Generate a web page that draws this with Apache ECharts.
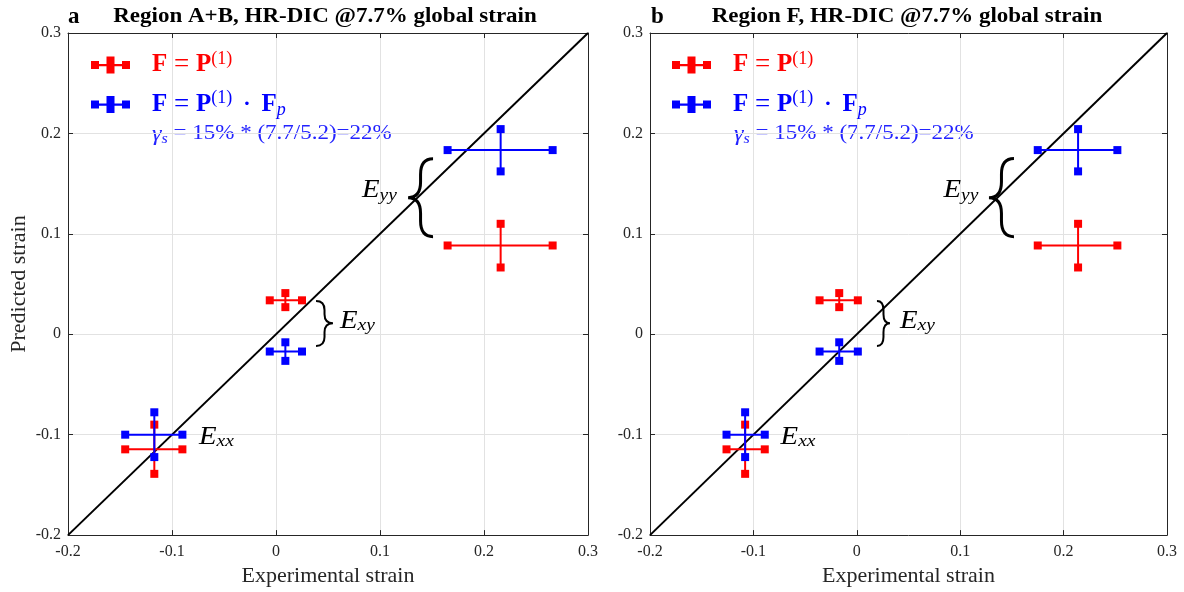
<!DOCTYPE html>
<html><head><meta charset="utf-8">
<script src="https://cdn.jsdelivr.net/npm/echarts@6/dist/echarts.min.js"></script>
<style>html,body{margin:0;padding:0;background:#fff}#c{width:1184px;height:592px}</style>
</head><body><div id="c"></div>
<script>
// ---------- data ----------
const components = ['Exx', 'Exy', 'Eyy'];
const tickLabels = ['-0.2', '-0.1', '0', '0.1', '0.2', '0.3'];

// Panel a: Region A+B
const expA      = [-0.117,  0.009,  0.216];
const expALo    = [-0.145, -0.006,  0.165];
const expAHi    = [-0.090,  0.025,  0.266];
const redA      = [-0.1146, 0.0338, 0.0884];
const redALo    = [-0.139,  0.027,  0.0665];
const redAHi    = [-0.090,  0.041,  0.110];
const blueA     = [-0.100, -0.0172, 0.1834];
const blueALo   = [-0.1223,-0.0265, 0.1622];
const blueAHi   = [-0.0777,-0.008,  0.2043];

// Panel b: Region F
const expB      = [-0.108, -0.017,  0.214];
const expBLo    = [-0.126, -0.036,  0.175];
const expBHi    = [-0.089,  0.001,  0.252];
const redB      = [-0.1146, 0.0338, 0.0884];
const redBLo    = [-0.139,  0.027,  0.0665];
const redBHi    = [-0.090,  0.041,  0.110];
const blueB     = [-0.100, -0.0172, 0.1834];
const blueBLo   = [-0.1223,-0.0265, 0.1622];
const blueBHi   = [-0.0777,-0.008,  0.2043];

const diag = [[-0.2, -0.2], [0.3, 0.3]];

// ---------- annotation anchors (data coords) ----------
// braces: [tipX, tipY, yLow, yHigh, endX]
const bracesA = [[0.127, 0.136, 0.0972, 0.1747, 0.1510], [0.0548, 0.011, -0.0116, 0.0331, 0.0385]];
const bracesB = [[0.1278, 0.136, 0.0972, 0.175, 0.1520], [0.0321, 0.011, -0.0116, 0.0331, 0.0195]];
// labels: [x, y, subscript, align]
const labelsA = [[0.1163, 0.143, 'yy', 'right'], [0.0615, 0.0132, 'xy', 'left'], [-0.074, -0.1024, 'xx', 'left']];
const labelsB = [[0.1176, 0.143, 'yy', 'right'], [0.0418, 0.0132, 'xy', 'left'], [-0.0737, -0.1024, 'xx', 'left']];

// ---------- helpers ----------
function rows(x, xl, xh, y, yl, yh) {
  return x.map((v, i) => [v, y[i], xl[i], xh[i], yl[i], yh[i]]);
}
const SERIF = '"Liberation Serif", "Times New Roman", serif';
const TXT = '#262626';

function errRender(params, api) {
  const x = api.value(0), y = api.value(1);
  const L = api.coord([api.value(2), y]), R = api.coord([api.value(3), y]);
  const B = api.coord([x, api.value(4)]), T = api.coord([x, api.value(5)]);
  const color = api.visual('color');
  const s = 8;
  const sq = p => ({type: 'rect', shape: {x: p[0] - s / 2, y: p[1] - s / 2, width: s, height: s}, style: {fill: color}});
  return {type: 'group', children: [
    {type: 'line', shape: {x1: L[0], y1: L[1], x2: R[0], y2: R[1]}, style: {stroke: color, lineWidth: 2}},
    {type: 'line', shape: {x1: T[0], y1: T[1], x2: B[0], y2: B[1]}, style: {stroke: color, lineWidth: 2}},
    sq(L), sq(R), sq(T), sq(B)
  ]};
}

function bracePath(t, lo, hi, e) {
  const tx = t[0], ty = t[1], yt = hi[1], yb = lo[1], ex = e;
  const xm = tx + (ex - tx) * 0.5;
  const r = Math.min(Math.abs(ex - tx) * 0.7, (yb - yt) / 5);
  return `M${ex},${yt} Q${xm},${yt} ${xm},${yt + r} L${xm},${ty - r} Q${xm},${ty} ${tx},${ty} ` +
         `Q${xm},${ty} ${xm},${ty + r} L${xm},${yb - r} Q${xm},${yb} ${ex},${yb}`;
}

function annotRender(braces, labels) {
  return function (params, api) {
    if (params.dataIndex !== 0) return null;
    const children = [];
    braces.forEach((b, i) => {
      const t = api.coord([b[0], b[1]]);
      const lo = api.coord([b[0], b[2]]);
      const hi = api.coord([b[0], b[3]]);
      const e = api.coord([b[4], b[1]])[0];
      children.push({type: 'path', shape: {pathData: bracePath(t, lo, hi, e)},
        style: {stroke: '#000', fill: null, lineWidth: i === 0 ? 3 : 2}});
    });
    labels.forEach(l => {
      const p = api.coord([l[0], l[1]]);
      children.push({type: 'text', x: p[0], y: p[1], scaleX: 1.15, style: {
        text: '{E|E}{s|' + l[2] + '}', align: l[3], verticalAlign: 'middle',
        rich: {
          E: {fontFamily: SERIF, fontStyle: 'italic', fontSize: 25, lineHeight: 26, fill: '#000', color: '#000'},
          s: {fontFamily: SERIF, fontStyle: 'italic', fontSize: 17, lineHeight: 14, verticalAlign: 'bottom', fill: '#000', color: '#000'}
        }
      }});
    });
    return {type: 'group', children};
  };
}

const legendIcon = 'path://M0,4.5h8v8h-8z M31,4.5h8v8h-8z M0,7.5h39v2.2h-39z M15.5,0h8v17h-8z';
const NAME_R = 'F = P(1)', NAME_B = 'F = P(1) · Fp';
function richSet(c) {
  return {
    b: {fontFamily: SERIF, fontWeight: 'bold', fontSize: 25, lineHeight: 30, color: c},
    e: {fontFamily: SERIF, fontSize: 27, lineHeight: 30, color: c},
    s: {fontFamily: SERIF, fontSize: 18, lineHeight: 16, verticalAlign: 'top', color: c},
    m: {fontFamily: SERIF, fontWeight: 'bold', fontSize: 22, lineHeight: 30, color: c},
    p: {fontFamily: SERIF, fontStyle: 'italic', fontSize: 18, lineHeight: 14, verticalAlign: 'bottom', color: c}
  };
}
const rR = richSet('#ff0000'), rB = richSet('#0000ff');
const legendRich = {gap: {width: 17, lineHeight: 30}};
Object.keys(rR).forEach(k => { legendRich['r' + k] = rR[k]; legendRich['u' + k] = rB[k]; });
function legendFmt(name) {
  if (name === NAME_R) return '{gap|}{rb|F}{re| = }{rb|P}{rs|(1)}';
  return '{gap|}{ub|F}{ue| = }{ub|P}{us|(1)}{um|  ·  }{ub|F}{up|p}';
}
function makeLegend(left) {
  return {left, top: 50, padding: 0, orient: 'vertical', itemWidth: 39, itemHeight: 17, itemGap: 11,
    selectedMode: false, icon: legendIcon, data: [NAME_R, NAME_B], formatter: legendFmt,
    textStyle: {rich: legendRich}};
}

const axisLineStyle = {onZero: false, lineStyle: {color: TXT, width: 1}};
function xAxes(grid, showName) {
  return [{
    type: 'value', gridIndex: grid, position: 'bottom', min: -0.2, max: 0.3, interval: 0.1,
    name: showName, nameLocation: 'middle', nameGap: 29,
    nameTextStyle: {fontFamily: SERIF, fontSize: 22, color: TXT},
    axisLine: axisLineStyle,
    axisTick: {inside: true, length: 5, lineStyle: {color: TXT}},
    axisLabel: {fontFamily: SERIF, fontSize: 16, color: TXT, margin: 9, formatter: (v, i) => tickLabels[i]},
    splitLine: {show: true, lineStyle: {color: '#e2e2e2', width: 1}}
  }, {
    type: 'value', gridIndex: grid, position: 'top', min: -0.2, max: 0.3, interval: 0.1,
    axisLine: axisLineStyle,
    axisTick: {inside: true, length: 5, lineStyle: {color: TXT}},
    axisLabel: {show: false}, splitLine: {show: false}
  }];
}
function yAxes(grid, showName) {
  return [{
    type: 'value', gridIndex: grid, position: 'left', min: -0.2, max: 0.3, interval: 0.1,
    name: showName, nameLocation: 'middle', nameGap: 38,
    nameTextStyle: {fontFamily: SERIF, fontSize: 22, color: TXT},
    axisLine: axisLineStyle,
    axisTick: {inside: true, length: 5, lineStyle: {color: TXT}},
    axisLabel: {fontFamily: SERIF, fontSize: 16, color: TXT, margin: 7, formatter: (v, i) => tickLabels[i]},
    splitLine: {show: true, lineStyle: {color: '#e2e2e2', width: 1}}
  }, {
    type: 'value', gridIndex: grid, position: 'right', min: -0.2, max: 0.3, interval: 0.1,
    axisLine: axisLineStyle,
    axisTick: {inside: true, length: 5, lineStyle: {color: TXT}},
    axisLabel: {show: false}, splitLine: {show: false}
  }];
}

function panelSeries(xi, yi, exp, expLo, expHi, red, redLo, redHi, blue, blueLo, blueHi, braces, labels) {
  return [
    {type: 'line', xAxisIndex: xi, yAxisIndex: yi, data: diag, symbol: 'none', silent: true,
     lineStyle: {color: '#000', width: 2}, z: 2},
    {type: 'custom', name: NAME_R, xAxisIndex: xi, yAxisIndex: yi, renderItem: errRender,
     itemStyle: {color: '#ff0000'}, encode: {x: [0, 2, 3], y: [1, 4, 5]},
     data: rows(exp, expLo, expHi, red, redLo, redHi), z: 3},
    {type: 'custom', name: NAME_B, xAxisIndex: xi, yAxisIndex: yi, renderItem: errRender,
     itemStyle: {color: '#0000ff'}, encode: {x: [0, 2, 3], y: [1, 4, 5]},
     data: rows(exp, expLo, expHi, blue, blueLo, blueHi), z: 4},
    {type: 'custom', xAxisIndex: xi, yAxisIndex: yi, renderItem: annotRender(braces, labels),
     data: [[0, 0]], silent: true, z: 5}
  ];
}

function gammaText(x) {
  return {type: 'text', x: x, y: 134, scaleX: 1.15, style: {
    text: '{g|γ}{gs|s}{t| = 15% * (7.7/5.2)=22%}', verticalAlign: 'middle', align: 'left',
    rich: {
      g: {fontFamily: SERIF, fontStyle: 'italic', fontSize: 21, lineHeight: 24, fill: '#2323ff'},
      gs: {fontFamily: SERIF, fontStyle: 'italic', fontSize: 14, lineHeight: 13, verticalAlign: 'bottom', fill: '#2323ff'},
      t: {fontFamily: SERIF, fontSize: 20, lineHeight: 24, fill: '#2323ff'}
    }
  }};
}
function titleText(x, y, txt, size, align, sx) {
  return {type: 'text', x, y, scaleX: sx, style: {text: txt, fontFamily: SERIF, fontWeight: 'bold', fontSize: size,
    fill: '#000', align, verticalAlign: 'middle'}};
}

const chart = echarts.init(document.getElementById('c'), null, {renderer: 'canvas'});
chart.setOption({
  animation: false,
  backgroundColor: '#fff',
  grid: [
    {left: 68, top: 33, width: 520, height: 503},
    {left: 650, top: 33, width: 517, height: 503}
  ],
  xAxis: [...xAxes(0, 'Experimental strain'), ...xAxes(1, 'Experimental strain')],
  yAxis: [...yAxes(0, 'Predicted strain'), ...yAxes(1, '')],
  legend: [makeLegend(91), makeLegend(672)],
  series: [
    ...panelSeries(0, 0, expA, expALo, expAHi, redA, redALo, redAHi, blueA, blueALo, blueAHi, bracesA, labelsA),
    ...panelSeries(2, 2, expB, expBLo, expBHi, redB, redBLo, redBHi, blueB, blueBLo, blueBHi, bracesB, labelsB)
  ],
  graphic: [
    titleText(68, 17, 'a', 23, 'left', 1),
    titleText(325, 17, 'Region A+B, HR-DIC @7.7% global strain', 20, 'center', 1.15),
    titleText(651, 17, 'b', 23, 'left', 1),
    titleText(907, 17, 'Region F, HR-DIC @7.7% global strain', 20, 'center', 1.15),
    gammaText(152),
    gammaText(734)
  ]
});
</script>
</body></html>
